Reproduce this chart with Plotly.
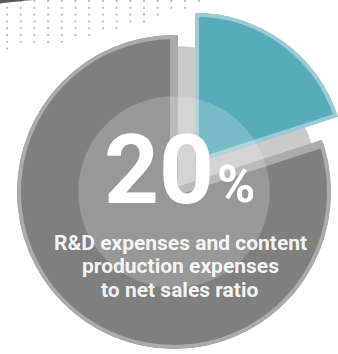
import numpy as np
import plotly.graph_objects as go

# ---- data -------------------------------------------------------------
segments = ["R&D and content production expenses", "Other"]
shares = [20, 80]                      # percent of net sales
caption_lines = ["R&D expenses and content",
                 "production expenses",
                 "to net sales ratio"]

W, H = 338, 354

# ---- colours ----------------------------------------------------------
TEAL, TEAL_EDGE = "#58abb9", "#9bcbd5"
GREY, GREY_EDGE = "#7f7f7f", "#ababab"
SLOT = "#cacaca"
FONT = "Roboto"


def px_x(x):
    return x / W


def px_y(y):
    return 1 - y / H


# angular spans derived from the shares (clockwise from 12 o'clock)
total = sum(shares)
spans = [s / total * 360 for s in shares]
starts = [sum(spans[:i]) for i in range(len(spans))]
centres = [st + sp / 2 for st, sp in zip(starts, spans)]

fig = go.Figure()

# dotted texture in the top-left corner (hidden cartesian axes in pixels)
gx, gy = np.meshgrid(np.arange(7, 205, 13.7), np.arange(1, 50, 6.8))
gx, gy = gx.ravel(), gy.ravel()
keep = gy < 50 - 0.05 * gx - 0.00095 * gx ** 2
fig.add_trace(go.Scatter(
    x=gx[keep], y=gy[keep], mode="markers", hoverinfo="skip",
    marker=dict(symbol="square", size=2, color="#bdbdbd", line=dict(width=0)),
))

# ---- main grey disc (polar) ------------------------------------------
# slot left behind by the exploded slice
fig.add_trace(go.Barpolar(
    subplot="polar", r=[93], theta=[centres[0]], width=[spans[0]],
    marker=dict(color=SLOT, line=dict(width=0)), hoverinfo="skip",
))
fig.add_trace(go.Barpolar(
    subplot="polar", r=[100], theta=[centres[1]], width=[spans[1]],
    name=segments[1],
    marker=dict(color=GREY, line=dict(color=GREY_EDGE, width=8)),
))
fig.add_trace(go.Scatterpolar(subplot="polar", r=[0], theta=[0], mode="markers",
                              marker=dict(opacity=0), cliponaxis=False,
                              hoverinfo="skip"))

# ---- exploded teal slice (its own polar sector) ------------------------
fig.add_trace(go.Barpolar(
    subplot="polar2", r=[100], theta=[centres[0]], width=[spans[0]],
    name=segments[0],
    marker=dict(color=TEAL, line=dict(color=TEAL_EDGE, width=8)),
))
fig.add_trace(go.Scatterpolar(subplot="polar2", r=[0], theta=[0], mode="markers",
                              marker=dict(opacity=0), cliponaxis=False,
                              hoverinfo="skip"))

# ---- translucent inner disc on top ------------------------------------
fig.add_trace(go.Barpolar(
    subplot="polar3", r=[61], theta=[180], width=[360],
    marker=dict(color="rgba(255,255,255,0.2)", line=dict(width=0)),
    hoverinfo="skip",
))

hidden_polar = dict(
    bgcolor="rgba(0,0,0,0)",
    radialaxis=dict(visible=False, range=[0, 100], autorange=False,
                    showgrid=False, showline=False, showticklabels=False),
    angularaxis=dict(visible=False, rotation=90, direction="clockwise",
                     showgrid=False, showline=False, showticklabels=False),
    barmode="overlay",
)

main_dom = dict(x=[px_x(17), px_x(331)], y=[px_y(349), px_y(35)])

fig.update_layout(
    width=W, height=H,
    margin=dict(l=0, r=0, t=0, b=0),
    paper_bgcolor="white", plot_bgcolor="rgba(0,0,0,0)",
    showlegend=False,
    xaxis=dict(range=[0, W], visible=False, fixedrange=True),
    yaxis=dict(range=[H, 0], visible=False, fixedrange=True),
    polar=dict(domain=main_dom, **hidden_polar),
    polar2=dict(domain=dict(x=[px_x(195), 1], y=[px_y(163.5), px_y(12.5)]),
                sector=[90 - spans[0], 90], **hidden_polar),
    polar3=dict(domain=main_dom, **hidden_polar),
    shapes=[dict(type="path", xref="x", yref="y", layer="above",
                 path="M0,0 L34,0 Q14,1.5 0,3.5 Z",
                 fillcolor="#5a5a5a", line=dict(width=0))],
)

# ---- text ---------------------------------------------------------------
fig.add_annotation(x=px_x(158.5), y=px_y(169.5), xref="paper", yref="paper",
                   text=f"{shares[0]}", showarrow=False,
                   xanchor="center", yanchor="middle",
                   font=dict(family=FONT, size=96, color="white", weight=700))
fig.add_annotation(x=px_x(236), y=px_y(184.5), xref="paper", yref="paper",
                   text="%", showarrow=False,
                   xanchor="center", yanchor="middle",
                   font=dict(family=FONT, size=52, color="white", weight=700))
for line, cy in zip(caption_lines, [242.8, 266.3, 289.8]):
    fig.add_annotation(x=px_x(180), y=px_y(cy), xref="paper", yref="paper",
                       text=line, showarrow=False,
                       xanchor="center", yanchor="middle",
                       font=dict(family=FONT, size=21,
                                 color="rgba(255,255,255,0.93)", weight=700))

fig.write_html("out.html", config=dict(displayModeBar=False, staticPlot=True))
